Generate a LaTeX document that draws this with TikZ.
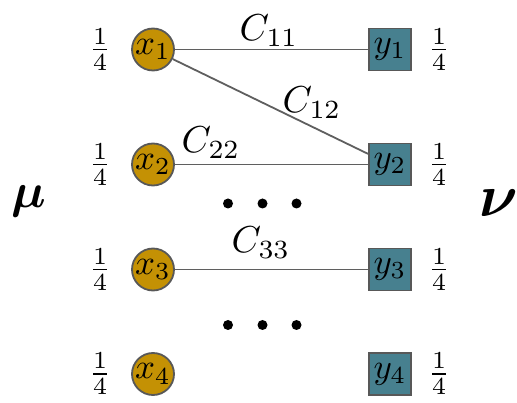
\documentclass[tikz,border=0pt]{standalone}
\usepackage{amsmath,bm,graphicx}
\definecolor{gold}{RGB}{196,145,4}
\definecolor{teal}{RGB}{71,128,143}
\definecolor{rim}{RGB}{88,88,88}
\definecolor{edgegray}{RGB}{95,95,95}
\newcommand{\mlab}[1]{\scalebox{3.5}{$#1$}}
\newcommand{\clab}[1]{\scalebox{3.75}{$#1$}}
\begin{document}
\begin{tikzpicture}[x=1pt,y=-1pt,
  every node/.style={inner sep=0pt},
  src/.style={circle, draw=rim, fill=gold, line width=1.8pt, minimum size=42pt},
  tgt/.style={rectangle, draw=rim, fill=teal, line width=1.8pt, minimum size=42pt},
  link/.style={draw=edgegray, line width=1.8pt},
  dotmark/.style={circle, fill=black, minimum size=10pt}]
\useasboundingbox (0,0) rectangle (517,403);
% sources
\node[src] (x1) at (153,49.5) {\mlab{x_1}};
\node[src] (x2) at (153,164.5) {\mlab{x_2}};
\node[src] (x3) at (153,269.5) {\mlab{x_3}};
\node[src] (x4) at (153,374) {\mlab{x_4}};
% targets
\node[tgt] (y1) at (390,49.5) {\mlab{y_1}};
\node[tgt] (y2) at (390,164.5) {\mlab{y_2}};
\node[tgt] (y3) at (390,269.5) {\mlab{y_3}};
\node[tgt] (y4) at (390,374) {\mlab{y_4}};
% weights
\node (a1) at (100,49.5) {\mlab{\frac{1}{4}}};
\node (a2) at (100,164.5) {\mlab{\frac{1}{4}}};
\node (a3) at (100,269.5) {\mlab{\frac{1}{4}}};
\node (a4) at (100,374) {\mlab{\frac{1}{4}}};
\node (b1) at (439,49.5) {\mlab{\frac{1}{4}}};
\node (b2) at (439,164.5) {\mlab{\frac{1}{4}}};
\node (b3) at (439,269.5) {\mlab{\frac{1}{4}}};
\node (b4) at (439,374) {\mlab{\frac{1}{4}}};
% measures
\node (mu) at (29,201) {\scalebox{4.9}{$\bm{\mu}$}};
\node (nu) at (499,203) {\scalebox{6}{$\bm{\nu}$}};
% edges
\draw[link] (x1) -- (y1);
\draw[link] (x1) -- (y2);
\draw[link] (x2) -- (y2);
\draw[link] (x3) -- (y3);
% edge labels
\node (c11) at (269,31) {\clab{C_{11}}};
\node (c12) at (312,103) {\clab{C_{12}}};
\node (c22) at (211,143) {\clab{C_{22}}};
\node (c33) at (261,243) {\clab{C_{33}}};
% dots
\node[dotmark] (d1a) at (228,203.5) {};
\node[dotmark] (d1b) at (262.5,203.5) {};
\node[dotmark] (d1c) at (296.5,203.5) {};
\node[dotmark] (d2a) at (228,325) {};
\node[dotmark] (d2b) at (262.5,325) {};
\node[dotmark] (d2c) at (296.5,325) {};
\end{tikzpicture}
\end{document}
